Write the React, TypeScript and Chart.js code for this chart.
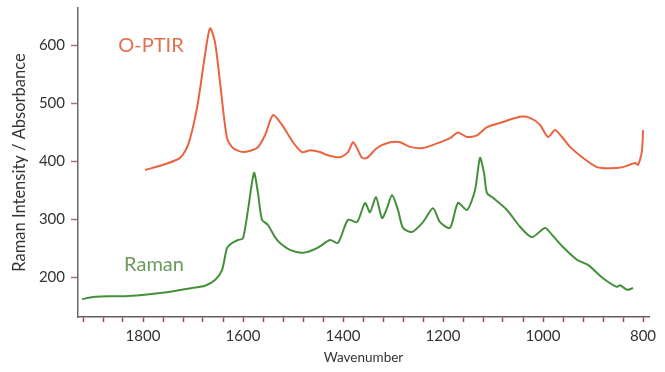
import React, { useEffect, useRef } from "react";
import { Chart, registerables } from "chart.js";

Chart.register(...registerables);

const optirWavenumber = [1796, 1760, 1726, 1710, 1692, 1676, 1666, 1656, 1646, 1632, 1620, 1600, 1572, 1556, 1540, 1522, 1500, 1482, 1466, 1446, 1432, 1406, 1390, 1380, 1372, 1362, 1352, 1332, 1306, 1286, 1266, 1240, 1212, 1186, 1170, 1152, 1132, 1112, 1080, 1046, 1026, 1006, 990, 976, 962, 946, 920, 892, 866, 840, 816, 810, 802, 800];
const optirValues = [385, 394, 406, 428, 492, 584, 630, 606, 537, 440, 423, 416, 423, 445, 480, 463, 433, 416, 419, 416, 411, 407, 416, 433, 423, 406, 406, 423, 433, 433, 425, 423, 431, 440, 450, 442, 445, 459, 468, 477, 475, 463, 442, 454, 442, 425, 406, 390, 388, 390, 397, 394, 419, 454];

const ramanWavenumber = [1922, 1896, 1870, 1836, 1802, 1770, 1736, 1702, 1676, 1656, 1642, 1632, 1622, 1610, 1600, 1590, 1578, 1570, 1562, 1550, 1536, 1526, 1506, 1480, 1452, 1426, 1410, 1390, 1372, 1356, 1346, 1334, 1322, 1312, 1302, 1290, 1280, 1262, 1240, 1220, 1206, 1186, 1170, 1152, 1136, 1126, 1118, 1112, 1100, 1072, 1046, 1022, 996, 982, 960, 932, 910, 880, 852, 846, 832, 820];
const ramanValues = [162, 166, 167, 167, 169, 172, 176, 181, 185, 195, 212, 250, 259, 264, 267, 316, 380, 345, 299, 290, 269, 259, 247, 242, 250, 264, 259, 299, 295, 328, 312, 338, 302, 319, 342, 316, 285, 278, 295, 319, 295, 285, 328, 316, 350, 406, 380, 345, 337, 316, 287, 269, 285, 273, 252, 230, 221, 198, 183, 186, 178, 181];

const xTickValues = [800, 840, 880, 920, 960, 1000, 1040, 1080, 1120, 1160, 1200, 1240, 1280, 1320, 1360, 1400, 1440, 1480, 1520, 1560, 1600, 1640, 1680, 1720, 1760, 1800, 1840, 1880, 1920];
const yTickValues = [200, 300, 400, 500, 600];

const seriesLabels = [
  { text: "O-PTIR", x: 1784, y: 600, color: "#e0704f" },
  { text: "Raman", x: 1778, y: 221, color: "#6c9a5c" },
];

const FONT = "Lato, 'Open Sans', sans-serif";

const labelPlugin = {
  id: "seriesLabels",
  afterDatasetsDraw(chart: any) {
    const { ctx, scales } = chart;
    ctx.save();
    ctx.font = `20px ${FONT}`;
    ctx.textAlign = "center";
    ctx.textBaseline = "middle";
    for (const l of seriesLabels) {
      ctx.fillStyle = l.color;
      ctx.fillText(l.text, scales.x.getPixelForValue(l.x), scales.y.getPixelForValue(l.y));
    }
    ctx.restore();
  },
};

export default function App() {
  const ref = useRef<HTMLCanvasElement>(null);
  useEffect(() => {
    if (!ref.current) return;
    const chart = new Chart(ref.current, {
      type: "line",
      data: {
        datasets: [
          {
            label: "O-PTIR",
            data: optirWavenumber.map((x, i) => ({ x, y: optirValues[i] })),
            borderColor: "#e8643e",
            borderWidth: 2,
            pointRadius: 0,
            tension: 0.25,
          },
          {
            label: "Raman",
            data: ramanWavenumber.map((x, i) => ({ x, y: ramanValues[i] })),
            borderColor: "#44903a",
            borderWidth: 2,
            pointRadius: 0,
            tension: 0.25,
          },
        ],
      },
      options: {
        animation: false,
        responsive: false,
        maintainAspectRatio: false,
        layout: { padding: { top: 8, right: 16, left: 0, bottom: 0 } },
        plugins: { legend: { display: false }, tooltip: { enabled: false } },
        scales: {
          x: {
            type: "linear",
            reverse: true,
            min: 788,
            max: 1930,
            afterBuildTicks: (s: any) => {
              s.ticks = xTickValues.map((v) => ({ value: v }));
            },
            afterFit: (s: any) => {
              s.height = 55;
              s.paddingLeft = 0;
              s.paddingRight = 0;
            },
            ticks: {
              autoSkip: false,
              maxRotation: 0,
              padding: 5,
              color: "#333",
              font: { family: FONT, size: 15 },
              callback: (v: any) => (Number(v) % 200 === 0 ? String(v) : ""),
            },
            grid: { drawOnChartArea: false, drawTicks: true, tickLength: 5, tickWidth: 1.5, tickColor: "#a04848" },
            border: { display: true, color: "#6a5a5a", width: 1.5 },
            title: {
              display: true,
              text: "Wavenumber",
              color: "#333",
              font: { family: FONT, size: 13.5 },
              padding: { top: 0, bottom: 6 },
            },
          },
          y: {
            type: "linear",
            min: 131,
            max: 665,
            afterBuildTicks: (s: any) => {
              s.ticks = yTickValues.map((v) => ({ value: v }));
            },
            afterFit: (s: any) => {
              s.width = 78;
              s.paddingTop = 0;
              s.paddingBottom = 0;
            },
            ticks: {
              padding: 6,
              color: "#333",
              font: { family: FONT, size: 15 },
            },
            grid: { drawOnChartArea: false, drawTicks: true, tickLength: 7, tickWidth: 1.5, tickColor: "#b07070" },
            border: { display: true, color: "#6a6a6a", width: 1.5 },
            title: {
              display: true,
              text: "Raman Intensity / Absorbance",
              color: "#333",
              font: { family: FONT, size: 16.5 },
              padding: { top: 10, bottom: 0 },
            },
          },
        },
      },
      plugins: [labelPlugin],
    });
    return () => chart.destroy();
  }, []);
  return (
    <div style={{ position: "fixed", left: 0, top: 0, width: 665, height: 372, background: "#fff" }}>
      <canvas ref={ref} width={665} height={372} style={{ display: "block" }} />
    </div>
  );
}
